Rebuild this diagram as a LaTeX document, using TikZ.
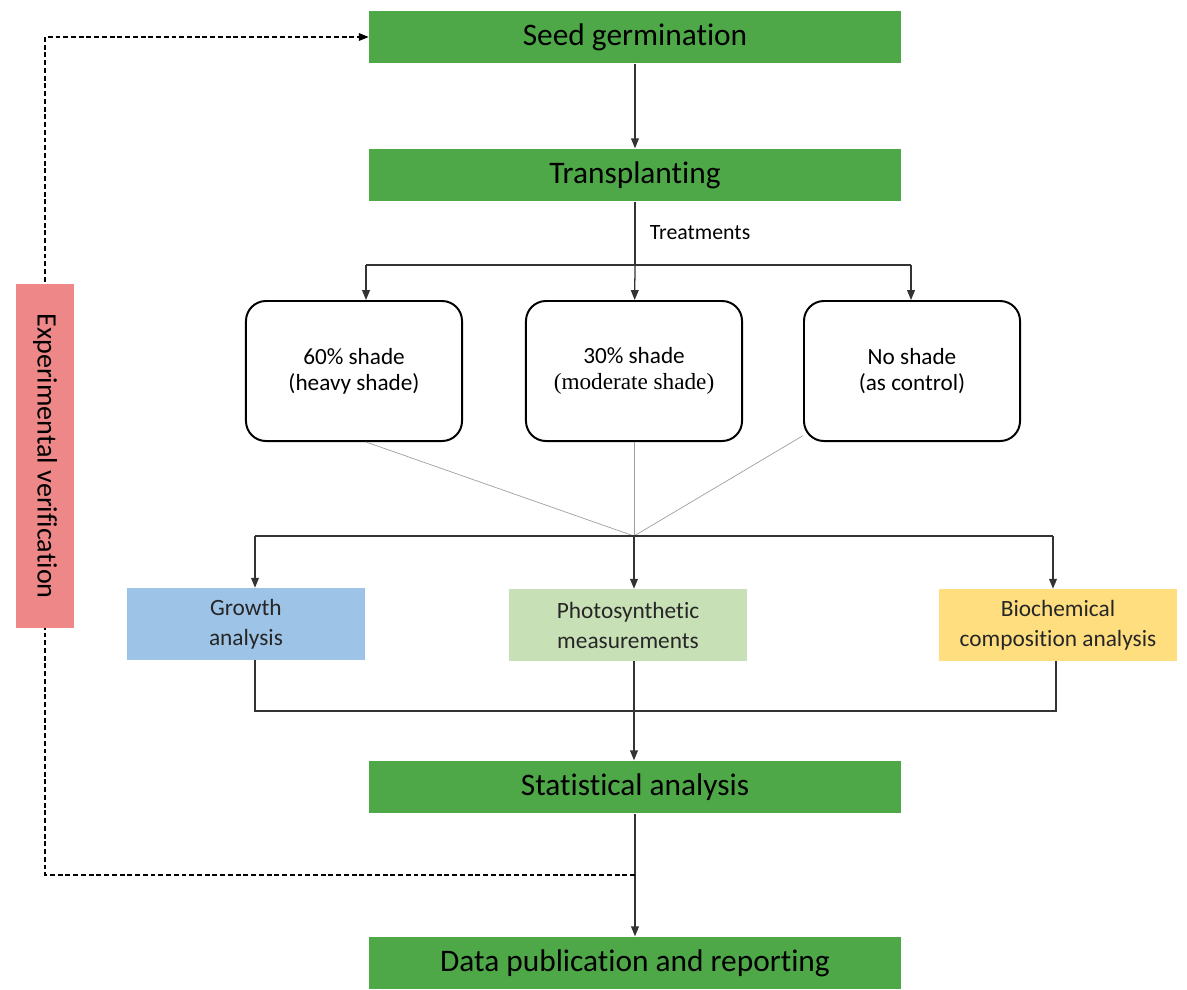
\documentclass[tikz,border=0pt]{standalone}
\usepackage{fontspec}
\setmainfont{Carlito}[Ligatures={NoCommon,NoContextual}]
\newfontfamily\timesfont{Liberation Serif}
\usetikzlibrary{arrows.meta,positioning}
\definecolor{stagegreen}{RGB}{78,168,72}
\definecolor{verifred}{RGB}{238,136,136}
\definecolor{growthblue}{RGB}{157,195,230}
\definecolor{photogreen}{RGB}{200,224,182}
\definecolor{bioyellow}{RGB}{255,222,128}
\begin{document}
\begin{tikzpicture}[
    x=0.025cm, y=-0.025cm,
    >={Triangle[length=7pt,width=5.5pt]},
    stage/.style={rectangle, fill=stagegreen, minimum width=13.3cm, minimum height=1.32cm, inner sep=0pt, font=\fontsize{22.3}{26}\selectfont},
    treat/.style={rectangle, draw, line width=1.4pt, rounded corners=0.5cm, minimum width=5.4cm, minimum height=3.5cm, align=center, font=\fontsize{16.5}{18.5}\selectfont},
    assay/.style={rectangle, minimum width=5.95cm, minimum height=1.8cm, inner sep=0pt, align=center, text=black!85, font=\fontsize{16.6}{21.3}\selectfont},
    verifbox/.style={rectangle, fill=verifred, rotate=-90, minimum width=8.6cm, minimum height=1.45cm, inner sep=0pt, font=\fontsize{20}{24}\selectfont},
    conn/.style={draw=black!80, line width=0.9pt},
    fan/.style={draw=gray!75, line width=0.5pt},
    loopback/.style={draw=black, line width=0.8pt, dash pattern=on 3.5pt off 2pt}
]
\useasboundingbox (0,0) rectangle (1187,989);

% Stages
\node [stage] (seed) at (635,37) {Seed germination};
\node [stage] (trans) at (635,175) {Transplanting};
\node [stage] (stat) at (635,787) {Statistical analysis};
\node [stage] (pub) at (635,963) {Data publication and reporting};

% Treatments
\node [treat] (heavy) at (354,371) {60\% shade\\(heavy shade)};
\node [treat] (moderate) at (634,371) {30\% shade\\{\timesfont (moderate shade)}};
\node [treat] (control) at (912,371) {No shade\\(as control)};
\node [anchor=west, font=\fontsize{15.5}{18}\selectfont] (treatlbl) at (645,233) {Treatments};

% Analyses
\node [assay, fill=growthblue] (growth) at (246,624) {Growth\\analysis};
\node [assay, fill=photogreen] (photo) at (628,625) {Photosynthetic\\measurements};
\node [assay, fill=bioyellow] (bio) at (1058,625) {Biochemical\\composition analysis};

% Branch points
\coordinate (split) at (635,265);
\coordinate (t60) at (366,265);
\coordinate (t0) at (911,265);
\coordinate (hub) at (634,536);
\coordinate (a1) at (255,536);
\coordinate (a3) at (1053,536);
\coordinate (m3) at (1056,711);
\coordinate (back) at (635,875);
\coordinate (corner) at (45,37);

% Connections
\draw [conn,->] (seed) -- (trans);
\draw [conn] (trans) -- (split);
\draw [conn] (t60) -- (t0);
\draw [conn,->] (split) -- (moderate);
\draw [conn,->] (t60) -- (t60 |- heavy.north);
\draw [conn,->] (t0) -- (t0 |- control.north);

\draw [fan] (t60 |- heavy.south) -- (hub);
\draw [fan] (moderate) -- (hub);
\draw [fan] (control) -- (hub);

\draw [conn] (a1) -- (a3);
\draw [conn,->] (a1) -- (a1 |- growth.north);
\draw [conn,->] (hub) -- (hub |- photo.north);
\draw [conn,->] (a3) -- (a3 |- bio.north);

\draw [conn] (a1 |- growth.south) |- (m3) -- (m3 |- bio.south);
\draw [conn,->] (hub |- photo.south) -- (hub |- stat.north);
\draw [conn,->] (stat) -- (pub);

% Feedback loop
\draw [loopback,->] (back) -| (corner) -- (seed.west);
\node [verifbox] (verif) at (45,456) {Experimental verification};
\end{tikzpicture}
\end{document}
